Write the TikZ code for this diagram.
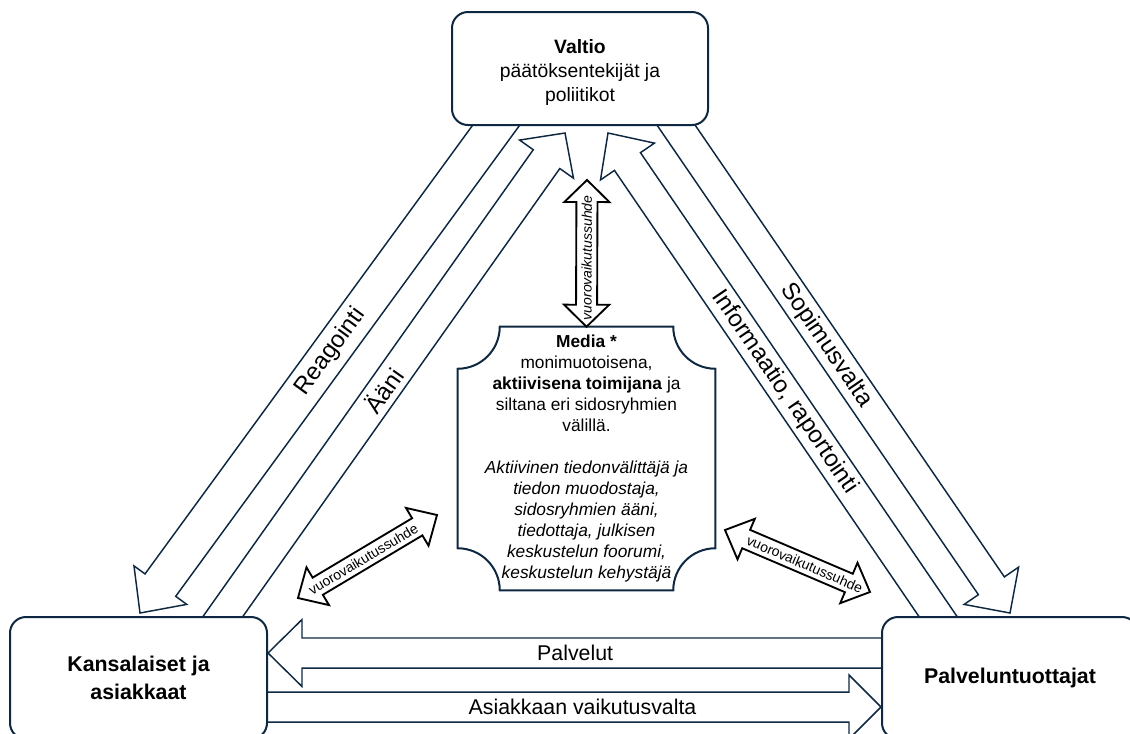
\documentclass[tikz,border=0pt]{standalone}
\usepackage{fontspec}
\setmainfont{Liberation Sans}
\usetikzlibrary{calc,backgrounds}
\definecolor{navy}{HTML}{0E2841}
\tikzset{
  party/.style    = {shape=rectangle, rounded corners=12pt,
          draw=navy, line width=1.5pt, fill=white, align=center,
          inner sep=0pt, text=black},
  mediabox/.style = {shape=rectangle, inner sep=0pt, align=center,
          minimum width=192.75pt, minimum height=197.25pt,
          font=\fontsize{13}{15.75}\selectfont},
  mediaedge/.style= {draw=navy, line width=1.5pt},
  fatline/.style  = {draw=navy, line width=1.1pt, fill=white, line join=miter},
  twoline/.style  = {draw=black, line width=1.4pt, fill=white, line join=miter},
  bigtag/.style   = {font=\fontsize{18}{18}\selectfont, sloped},
  flowtag/.style  = {font=\fontsize{16}{16}\selectfont},
  smalltag/.style = {font=\fontsize{10.5}{10.5}\selectfont, sloped}
}
% block arrow: start, tip, shaft half width, head half width, head length
\newcommand\fatarrow[5]{%
  \draw[fatline] ($(#1)!#3!90:(#2)$)
    -- ($($(#2)!#5!(#1)$)!#3!90:(#2)$)
    -- ($($(#2)!#5!(#1)$)!#4!90:(#2)$)
    -- (#2)
    -- ($($(#2)!#5!(#1)$)!#4!-90:(#2)$)
    -- ($($(#2)!#5!(#1)$)!#3!-90:(#2)$)
    -- ($(#1)!#3!-90:(#2)$);
}
% two-headed block arrow: tip, tip, shaft half width, head half width, head length
\newcommand\twoway[5]{%
  \draw[twoline] (#1)
    -- ($($(#1)!#5!(#2)$)!#4!90:(#2)$)
    -- ($($(#1)!#5!(#2)$)!#3!90:(#2)$)
    -- ($($(#2)!#5!(#1)$)!#3!-90:(#1)$)
    -- ($($(#2)!#5!(#1)$)!#4!-90:(#1)$)
    -- (#2)
    -- ($($(#2)!#5!(#1)$)!#4!90:(#1)$)
    -- ($($(#2)!#5!(#1)$)!#3!90:(#1)$)
    -- ($($(#1)!#5!(#2)$)!#3!-90:(#2)$)
    -- ($($(#1)!#5!(#2)$)!#4!-90:(#2)$)
    -- cycle;
}

\begin{document}
\begin{tikzpicture}[x=0.75pt, y=-0.75pt]
  \useasboundingbox (0,0) rectangle (1130,733);
  \clip (0,0) rectangle (1130,733);

  % the three parties
  \node [party, minimum width=192pt, minimum height=84.75pt] (valtio) at (580,68.5) {};
  \node [align=center, font=\fontsize{14.5}{18}\selectfont] (valtio-txt) at (580,72.5)
    {\textbf{Valtio}\\ päätöksentekijät ja\\ poliitikot};
  \node [party, minimum width=192.75pt, minimum height=91.5pt,
         font=\bfseries\fontsize{16}{21}\selectfont] (kans) at (138.5,678)
    {Kansalaiset ja\\ asiakkaat};
  \node [party, minimum width=192pt, minimum height=91.5pt,
         font=\bfseries\fontsize{16}{21}\selectfont] (palv) at (1010,678)
    {Palveluntuottajat};

  % media in the middle
  \node [mediabox] (media) at (586.5,458.5)
    {\textbf{Media *}\\ monimuotoisena,\\ \textbf{aktiivisena toimijana} ja\\
     siltana eri sidosryhmien\\ välillä.\\[15.75pt]
     \textit{Aktiivinen tiedonvälittäjä ja}\\ \textit{tiedon muodostaja,}\\
     \textit{sidosryhmien ääni,}\\ \textit{tiedottaja, julkisen}\\
     \textit{keskustelun foorumi,}\\ \textit{keskustelun kehystäjä}};
  \draw[mediaedge] ([xshift=31.5pt]media.north west) -- ([xshift=-31.5pt]media.north east)
    arc[start angle=180, end angle=270, radius=31.5pt] -- ([yshift=31.5pt]media.south east)
    arc[start angle=90, end angle=180, radius=31.5pt] -- ([xshift=31.5pt]media.south west)
    arc[start angle=0, end angle=90, radius=31.5pt] -- ([yshift=-31.5pt]media.north west)
    arc[start angle=270, end angle=360, radius=31.5pt] -- cycle;

  % arrow ends
  \coordinate (rea-s) at (508,109);
  \coordinate (rea-t) at (140,613);
  \coordinate (aan-s) at (210.5,634);
  \coordinate (aan-t) at (565,133);
  \coordinate (sop-s) at (664.7,108.5);
  \coordinate (sop-t) at (1010,613);
  \coordinate (inf-s) at (950.3,634.5);
  \coordinate (inf-t) at (608,133);
  \coordinate (pal-s) at (900,653);
  \coordinate (pal-t) at (kans.east |- pal-s);
  \coordinate (asi-s) at (250,707);
  \coordinate (asi-t) at (palv.west |- asi-s);
  \coordinate (vtop)  at (587,180);
  \coordinate (vl-a)  at (298,598);
  \coordinate (vl-b)  at (437,515);
  \coordinate (vr-a)  at (725,530);
  \coordinate (vr-b)  at (870,592);

  \begin{pgfonlayer}{background}
    \fatarrow{rea-s}{rea-t}{14.25pt}{24.5pt}{25.9pt}
    \fatarrow{aan-s}{aan-t}{12.2pt}{24.75pt}{24pt}
    \fatarrow{sop-s}{sop-t}{11.8pt}{24.75pt}{24.75pt}
    \fatarrow{inf-s}{inf-t}{11.8pt}{24.5pt}{25.9pt}
    \fatarrow{pal-s}{pal-t}{11.25pt}{25.1pt}{25.5pt}
    \fatarrow{asi-s}{asi-t}{11.25pt}{24pt}{24pt}
  \end{pgfonlayer}

  \path (rea-s) -- (rea-t) node[bigtag, pos=0.482] {Reagointi};
  \path (aan-s) -- (aan-t) node[bigtag, pos=0.487] {Ääni};
  \path (sop-s) -- (sop-t) node[bigtag, pos=0.469] {Sopimusvalta};
  \path (inf-s) -- (inf-t) node[bigtag, pos=0.484] {Informaatio, raportointi};
  \path (pal-s) -- (pal-t) node[flowtag, pos=0.514] {Palvelut};
  \path (asi-s) -- (asi-t) node[flowtag, pos=0.527] {Asiakkaan vaikutusvalta};

  % two-way links
  \twoway{media.north}{vtop}{7.9pt}{16.9pt}{16.5pt}
  \twoway{vl-a}{vl-b}{7.5pt}{16.5pt}{17.25pt}
  \twoway{vr-a}{vr-b}{7.5pt}{16.5pt}{17.25pt}
  \path (media.north) -- (vtop)
    node[smalltag, pos=0.47, font=\itshape\fontsize{10.5}{10.5}\selectfont] {vuorovaikutussuhde};
  \path (vl-a) -- (vl-b) node[smalltag, pos=0.47] {vuorovaikutussuhde};
  \path (vr-a) -- (vr-b) node[smalltag, pos=0.55] {vuorovaikutussuhde};
\end{tikzpicture}
\end{document}
